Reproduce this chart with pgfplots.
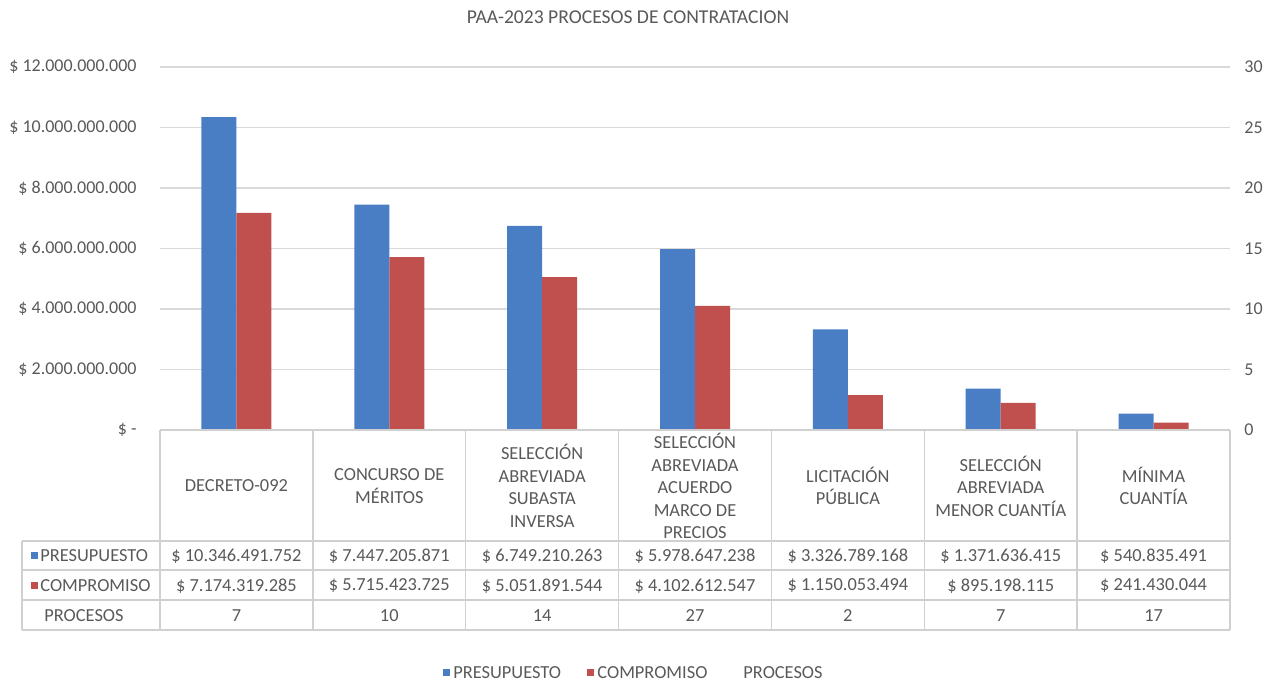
\documentclass[border=0pt]{standalone}
\usepackage{pgfplots}
\pgfplotsset{compat=1.18}
\usepackage{pgfplotstable}
\usepackage{fontspec}
\setmainfont{Carlito}
\definecolor{txt}{HTML}{595959}
\definecolor{grd}{HTML}{D9D9D9}
\definecolor{tbl}{HTML}{D0D0D0}
\definecolor{barblue}{HTML}{4A7EC4}
\definecolor{barred}{HTML}{C0504D}

\pgfplotstableread{
x pres comp proc
0 10346491752 7174319285 7
1 7447205871 5715423725 10
2 6749210263 5051891544 14
3 5978647238 4102612547 27
4 3326789168 1150053494 2
5 1371636415 895198115 7
6 540835491 241430044 17
}\datatable

\begin{document}
\begin{tikzpicture}[x=0.5pt,y=-0.5pt,font=\fontsize{9.2}{11.25}\selectfont,text=txt]
\useasboundingbox (0,0) rectangle (1272,681);
\begin{axis}[
  at={(80pt,-215pt)}, anchor=south west, scale only axis,
  width=535pt, height=181.5pt,
  xmin=-0.5, xmax=6.5, ymin=0, ymax=12000000000,
  xtick=\empty, scaled y ticks=false,
  ytick={0,2000000000,4000000000,6000000000,8000000000,10000000000,12000000000},
  yticklabels={\$ -,\$ 2.000.000.000,\$ 4.000.000.000,\$ 6.000.000.000,\$ 8.000.000.000,\$ 10.000.000.000,\$ 12.000.000.000},
  yticklabel style={anchor=east,xshift=-8.2pt,text=txt,font=\fontsize{9}{10}\selectfont},
  axis line style={draw=none}, tick style={draw=none},
  ymajorgrids, major grid style={grd,line width=0.7pt},
  clip=false,
]
\addplot[ybar, bar width=0.229, bar shift=-0.1145, fill=barblue, draw=none] table[x=x,y=pres]{\datatable};
\addplot[ybar, bar width=0.229, bar shift=0.1145, fill=barred, draw=none] table[x=x,y=comp]{\datatable};
\end{axis}
\begin{axis}[
  at={(80pt,-215pt)}, anchor=south west, scale only axis,
  width=535pt, height=181.5pt,
  xmin=-0.5, xmax=6.5, ymin=0, ymax=30,
  hide x axis, axis y line*=right,
  ytick={0,5,10,15,20,25,30},
  /pgf/number format/assume math mode=true,
  yticklabel style={anchor=west,xshift=3.7pt,text=txt,font=\fontsize{9}{10}\selectfont},
  y axis line style={draw=none}, tick style={draw=none},
]
\addplot[draw=none, mark=none] table[x=x,y=proc]{\datatable};
\end{axis}
% title
\node at (628,17) {\fontsize{9.8}{11}\selectfont PAA-2023 PROCESOS DE CONTRATACION};
% table lines
\begin{scope}[tbl, line width=0.7pt]
\draw (160,430) -- (1230,430);
\foreach \k in {0,...,7} { \draw ({160+152.857*\k},430) -- ({160+152.857*\k},630); }
\foreach \yy in {541,570,600,630} { \draw (22,\yy) -- (1230,\yy); }
\draw (22,541) -- (22,630);
\end{scope}
% header labels
\foreach \k/\lab in {0/{DECRETO-092},1/{CONCURSO DE\\MÉRITOS},2/{SELECCIÓN\\ABREVIADA\\SUBASTA\\INVERSA},3/{SELECCIÓN\\ABREVIADA\\ACUERDO\\MARCO DE\\PRECIOS},4/{LICITACIÓN\\PÚBLICA},5/{SELECCIÓN\\ABREVIADA\\MENOR CUANTÍA},6/{MÍNIMA\\CUANTÍA}}
  { \node[align=center] at ({160+152.857*(\k+0.5)},486) {\lab}; }
% rows
\foreach \k/\v in {0/{\$ 10.346.491.752},1/{\$ 7.447.205.871},2/{\$ 6.749.210.263},3/{\$ 5.978.647.238},4/{\$ 3.326.789.168},5/{\$ 1.371.636.415},6/{\$ 540.835.491}}
  { \node at ({160+152.857*(\k+0.5)},556) {\v}; }
\foreach \k/\v in {0/{\$ 7.174.319.285},1/{\$ 5.715.423.725},2/{\$ 5.051.891.544},3/{\$ 4.102.612.547},4/{\$ 1.150.053.494},5/{\$ 895.198.115},6/{\$ 241.430.044}}
  { \node at ({160+152.857*(\k+0.5)},586) {\v}; }
\foreach \k/\v in {0/7,1/10,2/14,3/27,4/2,5/7,6/17}
  { \node at ({160+152.857*(\k+0.5)},616) {\v}; }
% row labels
\fill[barblue] (31,552) rectangle (38,559);
\node[anchor=west,inner sep=0pt] at (40,556) {PRESUPUESTO};
\fill[barred] (31,582) rectangle (38,589);
\node[anchor=west,inner sep=0pt] at (40,586) {COMPROMISO};
\node[anchor=west,inner sep=0pt] at (44,616) {PROCESOS};
% legend
\fill[barblue] (443,669) rectangle (450,676);
\node[anchor=west,inner sep=0pt] at (453,673) {PRESUPUESTO};
\fill[barred] (587,669) rectangle (594,676);
\node[anchor=west,inner sep=0pt] at (597,673) {COMPROMISO};
\node[anchor=west,inner sep=0pt] at (743,673) {PROCESOS};
\end{tikzpicture}
\end{document}
